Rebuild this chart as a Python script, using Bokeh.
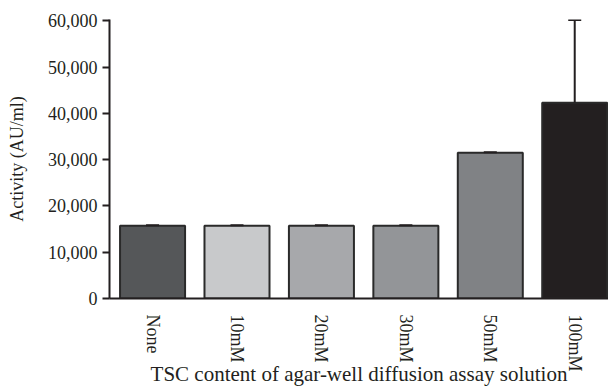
from bokeh.plotting import figure
from bokeh.models import Range1d, FixedTicker, NumeralTickFormatter, Whisker, ColumnDataSource
from bokeh.embed import file_html
from bokeh.resources import INLINE

categories = ["None", "10mM", "20mM", "30mM", "50mM", "100mM"]
activity = [15700, 15700, 15700, 15700, 31500, 42300]
errors = [150, 150, 150, 150, 120, 17900]
colors = ["#555759", "#c8c9cb", "#a7a8ab", "#939598", "#808285", "#231f20"]
y_ticks = [0, 10000, 20000, 30000, 40000, 50000, 60000]

xpos = [i + 0.5 for i in range(len(categories))]
src = ColumnDataSource(dict(
    x=xpos, top=activity, color=colors,
    upper=[a + e for a, e in zip(activity, errors)], lower=activity,
))

FONT = "Liberation Serif"
INK = "#231f20"

p = figure(width=608, height=388, output_backend="svg", toolbar_location=None,
           x_range=Range1d(-0.01, 5.9), y_range=Range1d(0, 60300),
           min_border_left=109, min_border_right=0, min_border_top=19, min_border_bottom=90)
p.outline_line_color = None
p.xgrid.grid_line_color = None
p.ygrid.grid_line_color = None

p.vbar(x="x", top="top", width=0.77, bottom=0, source=src,
       fill_color="color", line_color="#2a2a2a", line_width=2)

w = Whisker(base="x", upper="upper", lower="lower", source=src, dimension="height",
            line_color=INK, line_width=2, level="overlay")
w.upper_head.size = 13
w.upper_head.line_color = INK
w.upper_head.line_width = 2
w.lower_head = None
p.add_layout(w)

# y axis
ya = p.yaxis[0]
ya.ticker = FixedTicker(ticks=y_ticks)
ya.formatter = NumeralTickFormatter(format="0,0")
ya.axis_label = "Activity (AU/ml)"
ya.axis_label_text_font = FONT
ya.axis_label_text_font_style = "normal"
ya.axis_label_text_font_size = "18px"
ya.axis_label_text_color = INK
ya.axis_label_standoff = 18
ya.major_label_text_font = FONT
ya.major_label_text_font_size = "18px"
ya.major_label_text_color = INK
ya.major_label_standoff = 5
ya.axis_line_color = INK
ya.axis_line_width = 2
ya.major_tick_line_color = INK
ya.major_tick_line_width = 2
ya.major_tick_out = 7
ya.major_tick_in = 0
ya.minor_tick_line_color = None

# x axis
xa = p.xaxis[0]
xa.ticker = FixedTicker(ticks=xpos)
xa.major_label_overrides = {x: c for x, c in zip(xpos, categories)}
xa.major_label_orientation = "vertical"
xa.major_label_text_font = FONT
xa.major_label_text_font_size = "18px"
xa.major_label_text_color = INK
xa.major_label_standoff = 10
xa.axis_label = "TSC content of agar-well diffusion assay solution"
xa.axis_label_text_font = FONT
xa.axis_label_text_font_style = "normal"
xa.axis_label_text_font_size = "21px"
xa.axis_label_text_color = INK
xa.axis_label_standoff = -13
xa.axis_line_color = INK
xa.axis_line_width = 2
xa.major_tick_line_color = None
xa.minor_tick_line_color = None

open("out.html", "w").write(file_html(p, INLINE))
